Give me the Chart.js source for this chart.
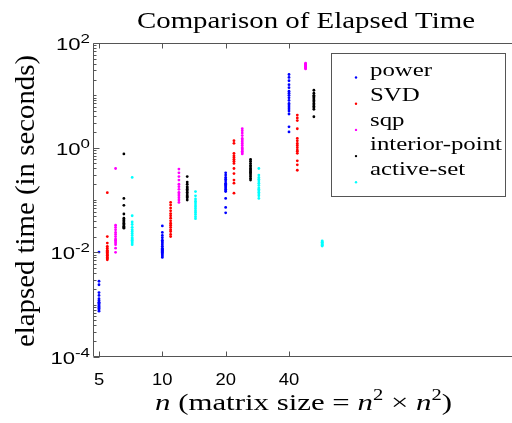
<!DOCTYPE html>
<html>
<head>
<meta charset="utf-8">
<script src="https://cdn.jsdelivr.net/npm/chart.js@4/dist/chart.umd.min.js"></script>
<style>
  html, body { margin: 0; padding: 0; background: #fff; overflow: hidden; }
  canvas { display: block; }
</style>
</head>
<body>
<canvas id="timeChart" width="530" height="423"></canvas>
<script>
const sizes = [5, 10, 20, 40];
const methods = ['power', 'SVD', 'sqp', 'interior-point', 'active-set'];
const colors = ['#0000ff', '#ff0000', '#ff00ff', '#000000', '#00ffff'];

// elapsed times in seconds, one list per n (5, 10, 20, 40)
const powerTimes = [
  [0.0101, 0.0028, 0.0024, 0.0017, 0.0015, 0.0013, 0.0012, 0.0011, 0.0011, 0.00105, 0.0010, 0.00095, 0.0009, 0.0009, 0.00085, 0.0008, 0.00075],
  [0.032, 0.024, 0.021, 0.019, 0.017, 0.016, 0.015, 0.014, 0.013, 0.012, 0.0115, 0.011, 0.0105, 0.010, 0.0095, 0.009, 0.0085, 0.008],
  [0.33, 0.30, 0.27, 0.25, 0.23, 0.21, 0.20, 0.19, 0.18, 0.17, 0.16, 0.15, 0.145, 0.107, 0.072, 0.057],
  [25, 22, 19, 16, 14, 12, 11, 10, 9, 8, 7, 6.5, 6, 5.5, 5, 4.4, 2.5, 2.0]
];
const svdTimes = [
  [0.138, 0.020, 0.015, 0.013, 0.012, 0.011, 0.0105, 0.010, 0.0095, 0.009, 0.0088, 0.0085, 0.008, 0.0078, 0.0075, 0.0072],
  [0.090, 0.080, 0.070, 0.062, 0.055, 0.050, 0.045, 0.040, 0.036, 0.033, 0.030, 0.027, 0.025, 0.022, 0.020],
  [1.36, 1.21, 0.78, 0.70, 0.65, 0.60, 0.55, 0.50, 0.40, 0.32, 0.24, 0.21, 0.135],
  [4.2, 3.7, 3.3, 2.3, 1.5, 1.35, 1.2, 1.1, 1.0, 0.9, 0.85, 0.78, 0.56, 0.47, 0.37]
];
const sqpTimes = [
  [0.40, 0.033, 0.030, 0.027, 0.024, 0.022, 0.020, 0.018, 0.017, 0.016, 0.015, 0.014, 0.012, 0.010],
  [0.39, 0.33, 0.28, 0.24, 0.20, 0.18, 0.16, 0.14, 0.13, 0.12, 0.11, 0.10, 0.09],
  [2.3, 2.1, 1.9, 1.7, 1.5, 1.4, 1.3, 1.2, 1.1, 1.0, 0.95, 0.9, 0.85, 0.8, 0.76],
  [41, 40, 39, 38, 37, 36, 35, 34, 33, 32]
];
const interiorTimes = [
  [0.76, 0.107, 0.079, 0.054, 0.045, 0.042, 0.040, 0.038, 0.036, 0.034, 0.032, 0.031, 0.030, 0.029],
  [0.28, 0.22, 0.20, 0.18, 0.17, 0.16, 0.15, 0.14, 0.13, 0.12, 0.115, 0.11, 0.10],
  [0.60, 0.55, 0.50, 0.46, 0.43, 0.40, 0.38, 0.36, 0.34, 0.32, 0.30, 0.28, 0.26, 0.24],
  [12.5, 11, 10, 9.5, 9, 8.5, 8, 7.5, 7, 6.6, 6.2, 5.8, 5.4, 3.9]
];
const activeTimes = [
  [0.27, 0.050, 0.038, 0.034, 0.030, 0.027, 0.025, 0.023, 0.021, 0.019, 0.018, 0.017, 0.016, 0.015, 0.014],
  [0.145, 0.12, 0.105, 0.095, 0.088, 0.080, 0.074, 0.068, 0.062, 0.058, 0.053, 0.048, 0.044],
  [0.40, 0.30, 0.27, 0.25, 0.23, 0.21, 0.19, 0.17, 0.16, 0.15, 0.14, 0.13, 0.12, 0.107],
  [0.0166, 0.016, 0.0155, 0.015, 0.0145, 0.014, 0.0135, 0.0132]
];
const allTimes = [powerTimes, svdTimes, sqpTimes, interiorTimes, activeTimes];

const xTickValues = [5, 10, 20, 40];
const yTickExponents = [-4, -2, 0, 2];

// each method is drawn a little to the right of the previous one
const methodShift = 1.095;

const datasets = methods.map((name, k) => ({
  label: name,
  data: sizes.flatMap((n, i) => allTimes[k][i].map(t => ({ x: n * Math.pow(methodShift, k), y: t }))),
  backgroundColor: colors[k],
  borderWidth: 0,
  pointRadius: 1.4,
  pointHoverRadius: 1.4
}));

const serif = '"Liberation Serif", "Times New Roman", serif';
const sans = '"Liberation Sans", Arial, sans-serif';

// draw a run of text pieces, squeezed/stretched horizontally
function drawPieces(ctx, pieces, x, y, stretch) {
  ctx.save();
  ctx.translate(x, y);
  ctx.scale(stretch, 1);
  ctx.textAlign = 'left';
  ctx.textBaseline = 'alphabetic';
  ctx.fillStyle = '#000';
  let cx = 0;
  pieces.forEach(p => {
    ctx.font = p.font;
    ctx.fillText(p.t, cx, p.dy || 0);
    cx += ctx.measureText(p.t).width;
  });
  ctx.restore();
}

function piecesWidth(ctx, pieces) {
  let w = 0;
  pieces.forEach(p => { ctx.font = p.font; w += ctx.measureText(p.t).width; });
  return w;
}

const decorations = {
  id: 'decorations',
  afterDraw(chart) {
    const ctx = chart.ctx;
    const area = chart.chartArea;
    const xs = chart.scales.x;
    const ys = chart.scales.y;
    const L = Math.round(area.left) + 0.5;
    const T = Math.round(area.top) + 0.5;
    const B = Math.round(area.bottom) - 0.5;
    const R = Math.round(area.right) - 0.5;

    ctx.save();
    ctx.strokeStyle = '#555';
    ctx.lineWidth = 1;
    ctx.beginPath();
    ctx.moveTo(L, T); ctx.lineTo(R, T);
    ctx.moveTo(L, T); ctx.lineTo(L, B);
    ctx.moveTo(L, B); ctx.lineTo(R, B);
    ctx.moveTo(R, T); ctx.lineTo(R, B);

    // y ticks, inward
    for (let e = -4; e <= 2; e++) {
      for (let m = 1; m <= 9; m++) {
        const v = m * Math.pow(10, e);
        if (v > 100) break;
        const py = Math.round(ys.getPixelForValue(v)) + 0.5;
        const len = (m === 1 && e % 2 === 0) ? 6 : 3;
        ctx.moveTo(L, py); ctx.lineTo(L + len, py);
      }
    }
    // x ticks, bottom and top
    xTickValues.forEach(v => {
      const px = Math.round(xs.getPixelForValue(v)) + 0.5;
      ctx.moveTo(px, B); ctx.lineTo(px, B - 5);
      ctx.moveTo(px, T); ctx.lineTo(px, T + 5);
    });
    ctx.stroke();
    ctx.restore();

    // y tick labels 10^k
    yTickExponents.forEach(e => {
      const py = ys.getPixelForValue(Math.pow(10, e));
      const sup = { t: String(e), font: '13px ' + sans, dy: 0 };
      const base = { t: '10', font: '17px ' + sans, dy: 7 };
      const stretch = 1.3;
      const w = piecesWidth(ctx, [base, sup]) * stretch;
      drawPieces(ctx, [base, sup], 90 - w, py, stretch);
    });

    // x tick labels
    xTickValues.forEach(v => {
      const px = xs.getPixelForValue(v);
      const p = [{ t: String(v), font: '16px ' + sans }];
      const stretch = 1.15;
      const w = piecesWidth(ctx, p) * stretch;
      drawPieces(ctx, p, px - w / 2, 385, stretch);
    });

    // title
    const title = [{ t: 'Comparison of Elapsed Time', font: '23px ' + serif }];
    drawPieces(ctx, title, 137, 28, 338 / piecesWidth(ctx, title));

    // x axis label
    const xl = [
      { t: 'n', font: 'italic 24px ' + serif },
      { t: ' (matrix size = ', font: '24px ' + serif },
      { t: 'n', font: 'italic 24px ' + serif },
      { t: '2', font: '16px ' + serif, dy: -10 },
      { t: ' \u00d7 ', font: '24px ' + serif },
      { t: 'n', font: 'italic 24px ' + serif },
      { t: '2', font: '16px ' + serif, dy: -10 },
      { t: ')', font: '24px ' + serif }
    ];
    drawPieces(ctx, xl, 155, 410, 297 / piecesWidth(ctx, xl));

    // y axis label, rotated
    const yl = [{ t: 'elapsed time (in seconds)', font: '23px ' + serif }];
    const ylw = piecesWidth(ctx, yl);
    ctx.save();
    ctx.translate(34, 201);
    ctx.rotate(-Math.PI / 2);
    ctx.scale(292 / ylw, 1.2);
    drawPieces(ctx, yl, -ylw / 2, 0, 1);
    ctx.restore();

    // legend box
    ctx.save();
    ctx.fillStyle = '#fff';
    ctx.fillRect(331.5, 53.5, 174, 143);
    ctx.strokeStyle = '#555';
    ctx.lineWidth = 1;
    ctx.strokeRect(331.5, 53.5, 174, 143);
    ctx.restore();
    const legStretch = 132 / piecesWidth(ctx, [{ t: 'interior-point', font: '19px ' + serif }]);
    methods.forEach((name, k) => {
      ctx.save();
      ctx.fillStyle = colors[k];
      ctx.beginPath();
      ctx.arc(356, 77.5 + k * 26.2, 1.2, 0, Math.PI * 2);
      ctx.fill();
      ctx.restore();
      drawPieces(ctx, [{ t: name, font: '19px ' + serif }], 370, 76 + k * 24.8, legStretch);
    });
  }
};

const chart = new Chart(document.getElementById('timeChart'), {
  type: 'scatter',
  data: { datasets },
  options: {
    responsive: false,
    animation: false,
    devicePixelRatio: 1,
    layout: { padding: { left: 93, top: 43, right: 13, bottom: 66 } },
    plugins: { legend: { display: false }, tooltip: { enabled: false }, title: { display: false } },
    scales: {
      x: { type: 'logarithmic', min: 4.682, max: 485, display: false },
      y: { type: 'logarithmic', min: 1e-4, max: 100, display: false }
    }
  },
  plugins: [decorations]
});
</script>
</body>
</html>
